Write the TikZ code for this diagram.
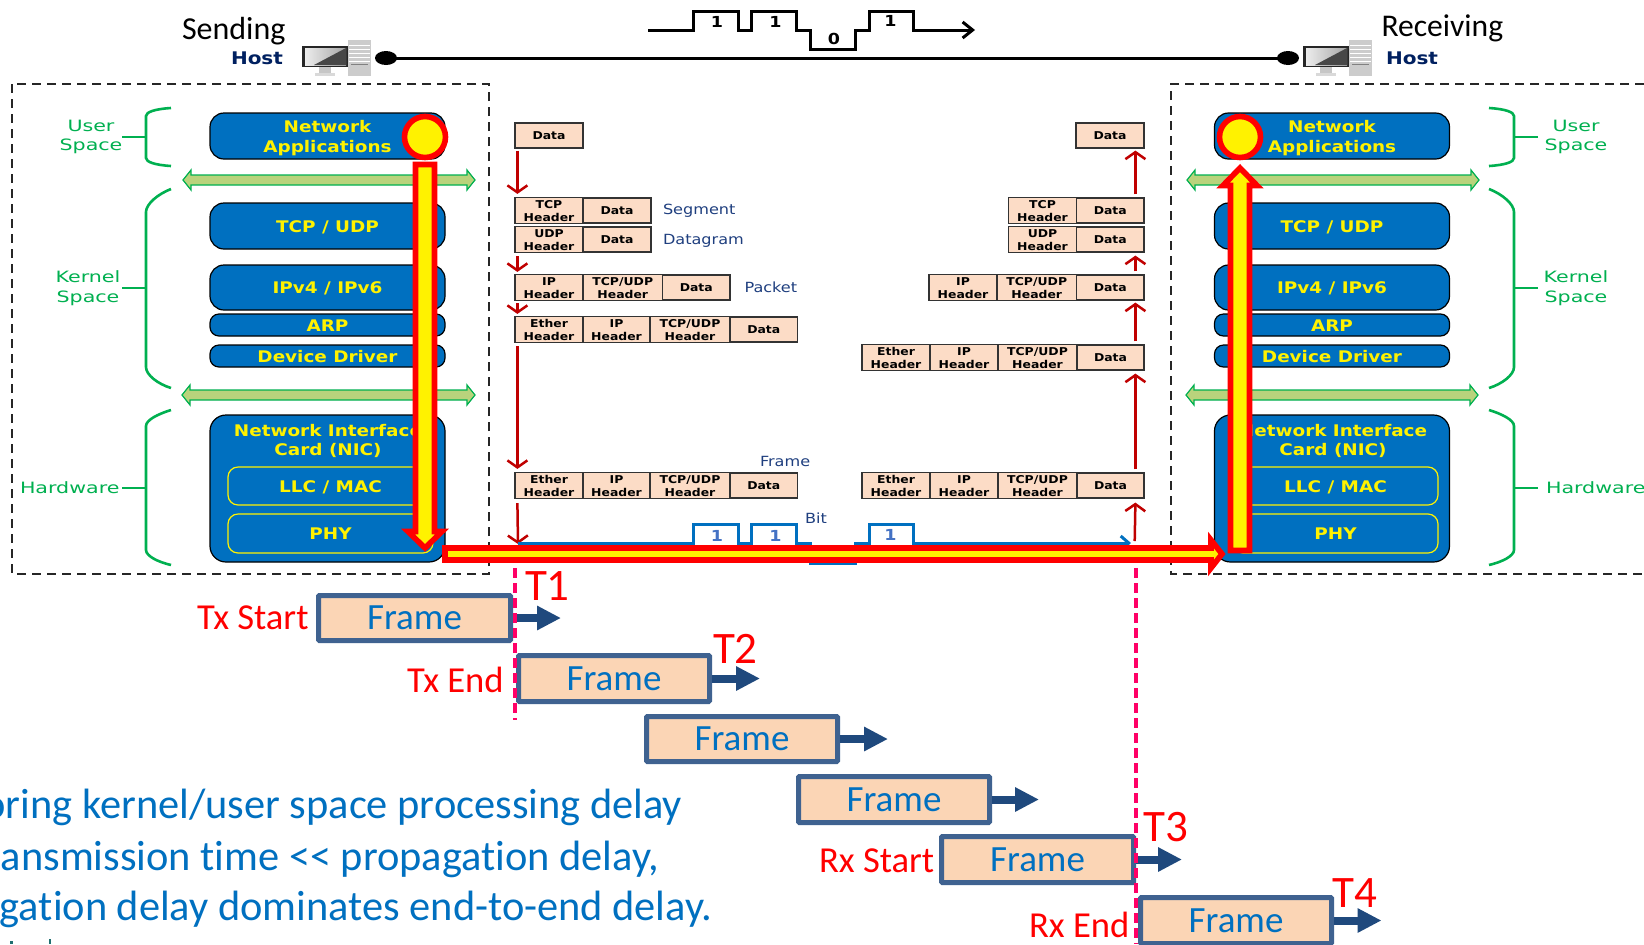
\documentclass[tikz,border=0pt]{standalone}
\usepackage{fontspec}
\setmainfont{Carlito}[Ligatures=NoCommon]
\newfontfamily\wf[FakeStretch=1.15]{DejaVu Sans}
\newfontfamily\wg[FakeStretch=1.32]{DejaVu Sans}
\usetikzlibrary{arrows.meta,calc}
\definecolor{nblue}{HTML}{0070C0}
\definecolor{cellfill}{HTML}{FCDCC6}
\definecolor{framefill}{HTML}{FBD5B5}
\definecolor{darkred}{HTML}{C00000}
\definecolor{grn}{HTML}{00B050}
\definecolor{grnfill}{HTML}{B9D37C}
\definecolor{navy}{HTML}{002060}
\definecolor{lblnavy}{HTML}{1F3F7F}
\definecolor{fborder}{HTML}{3F6290}
\definecolor{farrow}{HTML}{1F497D}
\definecolor{pink}{HTML}{FF0066}
\definecolor{digitblue}{HTML}{4472C4}
\definecolor{teal}{HTML}{1F6F70}
\newcommand{\fs}[1]{\fontsize{#1}{#1}\selectfont}
\newcommand{\low}[1]{\raisebox{-1pt}[\height][\depth]{\begin{tabular}{@{}c@{}}#1\end{tabular}}}
\newcommand{\bx}[7][]{%
  \pgfmathsetlengthmacro\bxw{(#5-#3)*0.5}%
  \pgfmathsetlengthmacro\bxh{(#6-#4)*0.5}%
  \node[#1,minimum width=\bxw,minimum height=\bxh] (#2) at ({(#3+#5)/2},{(#4+#6)/2}) {#7};}
\tikzset{
  txt/.style={inner sep=0pt,outer sep=0pt},
  cellbox/.style={draw=black!80,line width=0.6pt,fill=cellfill,inner sep=0pt,align=center,
    font=\wf\bfseries\fontsize{5.4}{6.5}\selectfont},
  layerbox/.style={draw=black,line width=0.6pt,fill=nblue,inner sep=0pt,align=center,text=yellow,rounded corners=7pt,
    font=\wf\bfseries\fontsize{8}{10}\selectfont},
  innerbox/.style={draw=yellow,line width=0.6pt,inner sep=0pt,text=yellow,rounded corners=5pt,
    font=\wf\bfseries\fontsize{8}{10}\selectfont},
  framebox/.style={draw=fborder,line width=2.5pt,fill=framefill,inner sep=0pt,rounded corners=0.5pt,
    text=nblue,font=\fs{18.5}},
  framearrow/.style={draw=farrow,line width=4pt,-{Triangle[length=12pt,width=11.5pt]}},
  stackarrow/.style={draw=darkred,line width=1.25pt,-{Straight Barb[length=3.5pt,width=10pt]}},
  brace/.style={draw=grn,line width=1.3pt},
  grnarrow/.style={draw=grn,line width=0.6pt,fill=grnfill,line join=miter},
  bigarrow/.style={draw=red,line width=2.8pt,fill=yellow,line join=miter,miter limit=8},
  grnlbl/.style={txt,text=grn,align=center,font=\wg\fontsize{7.8}{9.8}\selectfont},
  navylbl/.style={txt,text=lblnavy,anchor=west,font=\wf\fontsize{7}{8}\selectfont},
  hostlbl/.style={txt,text=navy,anchor=base west,font=\wf\bfseries\fontsize{8.7}{10}\selectfont},
  redlbl/.style={txt,text=red,anchor=base west,font=\fs{18.3}},
  tlbl/.style={txt,text=red,anchor=base west,font=\fs{22.5}},
  bodylbl/.style={txt,text=nblue,anchor=base east,font=\fs{21.2}},
  digit/.style={txt,font=\wf\bfseries\fontsize{7.6}{8}\selectfont},
  timeline/.style={draw=pink,line width=1.6pt,dash pattern=on 5pt off 2.5pt},
  boxline/.style={draw=black!85,line width=0.8pt,dash pattern=on 4.5pt off 3pt}
}
\newcommand{\computer}[1]{%
  \begin{scope}[shift={(#1)}]
    \fill[black!85] (0,6) rectangle (46,27);
    \shade[left color=gray!15,right color=gray!70] (3,8) rectangle (44,25);
    \fill[black!72] (12,25) -- (44,8) -- (44,25) -- cycle;
    \fill[gray!45] (17,27) rectangle (29,33);
    \fill[gray!30] (13,33) rectangle (33,36);
    \fill[gray!40] (46,0) rectangle (69,36);
    \foreach \yy in {5,9,13,17,21} \draw[white,line width=0.4pt] (47,\yy) -- (68,\yy);
    \draw[gray,line width=0.4pt] (49,24) -- (66,24);
  \end{scope}}
\begin{document}
\begin{tikzpicture}[x=0.5pt,y=-0.5pt]
\clip (0,0) rectangle (1644,944);
\fill[white] (0,0) rectangle (1644,944);
% hosts
\node[txt,anchor=base west,font=\fs{16}] (sending) at (182,39.5) {Sending};
\node[txt,anchor=base west,font=\fs{15.8}] (receiving) at (1381.5,36.5) {Receiving};
\node[hostlbl] (hostL) at (231,64) {Host};
\node[hostlbl] (hostR) at (1386,64) {Host};
\computer{302,40}
\computer{1303,40}
\fill[black] (386,58) ellipse (11 and 7);
\fill[black] (1288,58) ellipse (11 and 7);
\coordinate (wireL) at (386,58);
\coordinate (wireR) at (1288,58);
\draw[line width=1.5pt] (wireL) -- (wireR);
% top signal
\draw[line width=1.5pt,line join=miter,-{Straight Barb[length=5pt,width=8pt]}]
  (648,30) -- (693.6,30) -- (693.6,11) -- (738.6,11) -- (738.6,30) -- (751.7,30) -- (751.7,11) -- (796.7,11) -- (796.7,30) -- (810.6,30) -- (810.6,49) -- (855.6,49) -- (855.6,30) -- (869,30) -- (869,11) -- (913.7,11) -- (913.7,30) -- (975,30);
\node[digit] (d1) at (717,22) {1};
\node[digit] (d2) at (775.5,22) {1};
\node[digit] (d3) at (834,39) {0};
\node[digit] (d4) at (890.5,21) {1};
% dashed host boxes
\draw[boxline] (12,84) rectangle (489,574);
\draw[boxline] (1644,84) -- (1171,84) -- (1171,574) -- (1644,574);
% braces left
\draw[brace] (171,108) .. controls (155,109) and (146,112) .. (146,116) -- (146,158) .. controls (146,162) and (155,165) .. (171,166);
\draw[brace] (122,137) -- (146,137);
\draw[brace] (171,189) .. controls (158,194) and (146,204) .. (146,212) -- (146,367) .. controls (146,375) and (158,384) .. (171,388);
\draw[brace] (122,288) -- (146,288);
\draw[brace] (171,410) .. controls (158,414) and (146,420) .. (146,426) -- (146,550) .. controls (146,556) and (158,562) .. (171,565);
\draw[brace] (122,488) -- (146,488);
% braces right
\draw[brace] (1489,108) .. controls (1505,109) and (1514,112) .. (1514,116) -- (1514,158) .. controls (1514,162) and (1505,165) .. (1489,166);
\draw[brace] (1538,137) -- (1514,137);
\draw[brace] (1489,189) .. controls (1502,194) and (1514,204) .. (1514,212) -- (1514,367) .. controls (1514,375) and (1502,384) .. (1489,388);
\draw[brace] (1538,288) -- (1514,288);
\draw[brace] (1489,410) .. controls (1502,414) and (1514,420) .. (1514,426) -- (1514,550) .. controls (1514,556) and (1502,562) .. (1489,565);
\draw[brace] (1538,488) -- (1514,488);
% green labels
\node[grnlbl] (userL) at (91,137) {User\\Space};
\node[grnlbl] (kernL) at (88,288) {Kernel\\Space};
\node[grnlbl,anchor=west] (hwL) at (20,488) {Hardware};
\node[grnlbl] (userR) at (1576,137) {User\\Space};
\node[grnlbl] (kernR) at (1576,288) {Kernel\\Space};
\node[grnlbl,anchor=west] (hwR) at (1546,488) {Hardware};
% green bus arrows
\foreach \xa/\xb/\yc in {183/475/180,182/475/395,1187/1479/180,1186/1478/395}{
  \draw[grnarrow] (\xa,\yc) -- (\xa+8,\yc-10) -- (\xa+8,\yc-5) -- (\xb-8,\yc-5) -- (\xb-8,\yc-10) -- (\xb,\yc) -- (\xb-8,\yc+10) -- (\xb-8,\yc+5) -- (\xa+8,\yc+5) -- (\xa+8,\yc+10) -- cycle;
}
% layers left
\bx[layerbox]{appL}{210}{113}{445}{159}{\low{Network\\Applications}}
\bx[layerbox]{tcpL}{210}{203}{445}{249}{\low{TCP / UDP}}
\bx[layerbox]{ipL}{210}{265}{445}{310}{\low{IPv4 / IPv6}}
\bx[layerbox,rounded corners=4.5pt]{arpL}{210}{314}{445}{336}{\low{ARP}}
\bx[layerbox,rounded corners=4.5pt]{devL}{210}{345}{445}{367}{\low{Device Driver}}
\bx[layerbox,rounded corners=8pt]{nicL}{210}{415}{445}{562}{}
\node[txt,text=yellow,align=center,font=\wf\bfseries\fontsize{8}{9.5}\selectfont] (nicLt) at (328,441) {Network Interface\\Card (NIC)};
\bx[innerbox]{llcL}{228}{467}{433}{505}{\low{LLC / MAC}}
\bx[innerbox]{phyL}{228}{514}{433}{553}{PHY}
% layers right
\bx[layerbox]{appR}{1214.5}{113}{1449.5}{159}{\low{Network\\Applications}}
\bx[layerbox]{tcpR}{1214.5}{203}{1449.5}{249}{\low{TCP / UDP}}
\bx[layerbox]{ipR}{1214.5}{265}{1449.5}{310}{\low{IPv4 / IPv6}}
\bx[layerbox,rounded corners=4.5pt]{arpR}{1214.5}{314}{1449.5}{336}{\low{ARP}}
\bx[layerbox,rounded corners=4.5pt]{devR}{1214.5}{345}{1449.5}{367}{\low{Device Driver}}
\bx[layerbox,rounded corners=8pt]{nicR}{1214.5}{415}{1449.5}{562}{}
\node[txt,text=yellow,align=center,font=\wf\bfseries\fontsize{8}{9.5}\selectfont] (nicRt) at (1333,441) {Network Interface\\Card (NIC)};
\bx[innerbox]{llcR}{1233}{467}{1438}{505}{\low{LLC / MAC}}
\bx[innerbox]{phyR}{1233}{514}{1438}{553}{PHY}
% left stack
\bx[cellbox]{dL0}{515}{123}{583}{148}{Data}
\bx[cellbox]{tcpHL}{515}{198}{583}{223}{\low{TCP\\Header}}
\bx[cellbox]{tcpDL}{583}{198}{651}{223}{Data}
\bx[cellbox]{udpHL}{515}{227}{583}{252}{\low{UDP\\Header}}
\bx[cellbox]{udpDL}{583}{227}{651}{252}{Data}
\bx[cellbox]{ipHL}{515}{275}{583}{300}{\low{IP\\Header}}
\bx[cellbox]{ipTL}{583}{275}{662.5}{300}{\low{TCP/UDP\\Header}}
\bx[cellbox]{ipDL}{662.5}{275}{730}{300}{Data}
\bx[cellbox]{eHL}{515}{317}{583}{342}{\low{Ether\\Header}}
\bx[cellbox]{eIL}{583}{317}{650}{342}{\low{IP\\Header}}
\bx[cellbox]{eTL}{650}{317}{730}{342}{\low{TCP/UDP\\Header}}
\bx[cellbox]{eDL}{730}{317}{797.5}{342}{Data}
\bx[cellbox]{fHL}{515}{473}{583}{498}{\low{Ether\\Header}}
\bx[cellbox]{fIL}{583}{473}{650}{498}{\low{IP\\Header}}
\bx[cellbox]{fTL}{650}{473}{730}{498}{\low{TCP/UDP\\Header}}
\bx[cellbox]{fDL}{730}{473}{797.5}{498}{Data}
% right stack
\bx[cellbox]{dR0}{1076}{123}{1144}{148}{Data}
\bx[cellbox]{tcpHR}{1008.5}{198}{1076.5}{223}{\low{TCP\\Header}}
\bx[cellbox]{tcpDR}{1076.5}{198}{1144}{223}{Data}
\bx[cellbox]{udpHR}{1008.5}{227}{1076.5}{252}{\low{UDP\\Header}}
\bx[cellbox]{udpDR}{1076.5}{227}{1144}{252}{Data}
\bx[cellbox]{ipHR}{929}{275}{997}{300}{\low{IP\\Header}}
\bx[cellbox]{ipTR}{997}{275}{1076.5}{300}{\low{TCP/UDP\\Header}}
\bx[cellbox]{ipDR}{1076.5}{275}{1144}{300}{Data}
\bx[cellbox]{eHR}{862}{345}{930}{370}{\low{Ether\\Header}}
\bx[cellbox]{eIR}{930}{345}{998}{370}{\low{IP\\Header}}
\bx[cellbox]{eTR}{998}{345}{1077}{370}{\low{TCP/UDP\\Header}}
\bx[cellbox]{eDR}{1077}{345}{1144}{370}{Data}
\bx[cellbox]{fHR}{862}{473}{930}{498}{\low{Ether\\Header}}
\bx[cellbox]{fIR}{930}{473}{998}{498}{\low{IP\\Header}}
\bx[cellbox]{fTR}{998}{473}{1077}{498}{\low{TCP/UDP\\Header}}
\bx[cellbox]{fDR}{1077}{473}{1144}{498}{Data}
% PDU labels
\node[navylbl] (seg) at (663,211) {Segment};
\node[navylbl] (dgm) at (663,241) {Datagram};
\node[navylbl] (pkt) at (744.5,287) {Packet};
\node[navylbl] (frm) at (760,461) {Frame};
\node[navylbl] (bitl) at (805,518) {Bit};
% stack arrows
\coordinate (wL) at (518,544);
\coordinate (wR) at (1134.7,541);
\draw[stackarrow] ($(dL0.south west)+(1.5pt,-1pt)$) -- ($(tcpHL.north west)+(1.5pt,1.5pt)$);
\draw[stackarrow] ($(udpHL.south west)+(1.5pt,-1.5pt)$) -- ($(ipHL.north west)+(1.5pt,1pt)$);
\draw[stackarrow] ($(ipHL.south west)+(1.5pt,-1pt)$) -- ($(eHL.north west)+(1.5pt,1pt)$);
\draw[stackarrow] ($(eHL.south west)+(1.5pt,-1.5pt)$) -- ($(fHL.north west)+(1.5pt,1.5pt)$);
\draw[stackarrow] ($(fHL.south west)+(1.5pt,-2pt)$) -- (wL);
\draw[stackarrow] ($(tcpDR.north east)+(-4.6pt,1.5pt)$) -- ($(dR0.south east)+(-4.6pt,-1pt)$);
\draw[stackarrow] ($(ipDR.north east)+(-4.6pt,1.5pt)$) -- ($(udpDR.south east)+(-4.6pt,-1.5pt)$);
\draw[stackarrow] ($(eDR.north east)+(-4.6pt,1.5pt)$) -- ($(ipDR.south east)+(-4.6pt,-1pt)$);
\draw[stackarrow] ($(fDR.north east)+(-4.6pt,1.5pt)$) -- ($(eDR.south east)+(-4.6pt,-1.5pt)$);
\draw[stackarrow] (wR) -- ($(fDR.south east)+(-4.6pt,-2pt)$);
% wire signal
\draw[draw=nblue,line width=1.5pt,line join=miter,-{Straight Barb[length=4pt,width=7pt]}]
  (518,543) -- (693.6,543) -- (693.6,524) -- (738.6,524) -- (738.6,543) -- (751.7,543) -- (751.7,524) -- (796.7,524) -- (796.7,543) -- (810.6,543) -- (810.6,563) -- (855.6,563) -- (855.6,543) -- (869,543) -- (869,524) -- (913.7,524) -- (913.7,543) -- (1131,543);
\node[digit,text=digitblue] (b1) at (717,536) {1};
\node[digit,text=digitblue] (b2) at (775.5,536) {1};
\node[digit,text=digitblue] (b3) at (890.5,535) {1};
% big flow arrows
\node[draw=red,line width=2.8pt,fill=yellow,circle,inner sep=0pt,minimum size=20.5pt] (cL) at (425,137) {};
\node[draw=red,line width=2.8pt,fill=yellow,circle,inner sep=0pt,minimum size=20.5pt] (cR) at (1240,137) {};
\draw[bigarrow] (415.5,164.5) -- (434.5,164.5) -- (434.5,531.5) -- (442,531.5) -- (425,548) -- (408,531.5) -- (415.5,531.5) -- cycle;
\draw[bigarrow] (1230.5,550.5) -- (1249.5,550.5) -- (1249.5,185.5) -- (1257,185.5) -- (1240,168) -- (1223,185.5) -- (1230.5,185.5) -- cycle;
\draw[bigarrow] (445,548) -- (1211,548) -- (1211,540) -- (1222,554) -- (1211,568) -- (1211,560) -- (445,560) -- cycle;
% frames
\bx[framebox]{f1}{318.5}{595.5}{510.5}{640.5}{Frame}
\bx[framebox]{f2}{518.5}{655.5}{709.5}{701.5}{Frame}
\bx[framebox]{f3}{646.5}{716.5}{837.5}{761.5}{Frame}
\bx[framebox]{f4}{798.5}{776.5}{989.5}{822.5}{Frame}
\bx[framebox]{f5}{941.5}{836.5}{1133.5}{882.5}{Frame}
\bx[framebox]{f6}{1140.5}{897.5}{1331.5}{943.5}{Frame}
\coordinate (a1) at (561,618);
\coordinate (a2) at (760,678.5);
\coordinate (a3) at (888,739);
\coordinate (a4) at (1039,799.5);
\coordinate (a5) at (1182,859.5);
\coordinate (a6) at (1381.5,920.5);
\foreach \n in {1,...,6}{\draw[framearrow] (f\n.east) -- (a\n);}
% time lines
\coordinate (pLa) at (515,568);
\coordinate (pLb) at (515,720);
\coordinate (pRa) at (1136,568);
\coordinate (pRb) at (1136,944);
\draw[timeline] (pLa) -- (pLb);
\draw[timeline] (pRa) -- (pRb);
% red labels
\node[tlbl] (T1) at (525,600) {T1};
\node[tlbl] (T2) at (713,663) {T2};
\node[tlbl] (T3) at (1143.5,841.5) {T3};
\node[tlbl] (T4) at (1332.5,907) {T4};
\node[redlbl] (txs) at (197,629) {Tx Start};
\node[redlbl] (txe) at (407,692.5) {Tx End};
\node[redlbl] (rxs) at (819,872.5) {Rx Start};
\node[redlbl] (rxe) at (1029,937) {Rx End};
% body text
\node[bodylbl] (l1) at (682,818) {oring kernel/user space processing delay};
\node[bodylbl] (l2) at (659,870) {ansmission time {<}{<} propagation delay,};
\node[bodylbl] (l3) at (712.5,920.5) {gation delay dominates end-to-end delay.};
% tops of a cropped fourth line
\fill[teal] (10,941) rectangle (12.5,944);
\fill[teal] (48.5,939) rectangle (51,944);
\end{tikzpicture}
\end{document}
